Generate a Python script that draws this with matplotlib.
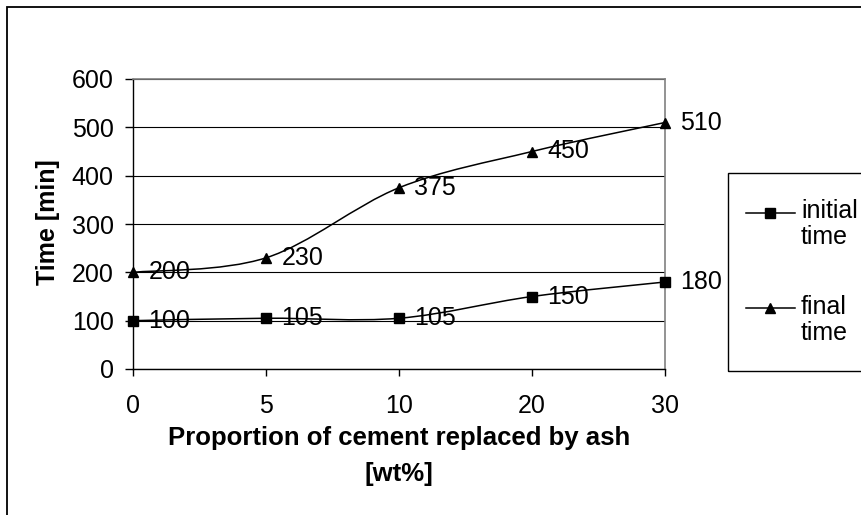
import matplotlib.pyplot as plt
from matplotlib.path import Path
from matplotlib.patches import PathPatch, Rectangle
from matplotlib.lines import Line2D

# setting times vs. ash content
categories = ["0", "5", "10", "20", "30"]
initial_time = [100, 105, 105, 150, 180]
final_time = [200, 230, 375, 450, 510]
series_names = ["initial\ntime", "final\ntime"]

plt.rcParams["font.family"] = ["Liberation Sans", "DejaVu Sans"]

W, H = 862, 515


def fx(x):
    return x / W


def fy(y):
    return 1 - y / H


def smooth_path(xs, ys):
    # smoothed line through the points (cubic Bezier, Catmull-Rom style)
    n = len(xs)
    verts = [(xs[0], ys[0])]
    codes = [Path.MOVETO]
    for i in range(n - 1):
        a = max(i - 1, 0)
        b = min(i + 2, n - 1)
        c1 = (xs[i] + (xs[i + 1] - xs[a]) / 6, ys[i] + (ys[i + 1] - ys[a]) / 6)
        c2 = (xs[i + 1] - (xs[b] - xs[i]) / 6, ys[i + 1] - (ys[b] - ys[i]) / 6)
        verts += [c1, c2, (xs[i + 1], ys[i + 1])]
        codes += [Path.CURVE4] * 3
    return Path(verts, codes)


fig = plt.figure(figsize=(W / 100, H / 100), dpi=100)
ax = fig.add_axes([fx(133), fy(369), (665 - 133) / W, (369 - 79) / H])

x = list(range(len(categories)))
styles = [("s", 6.5), ("^", 7.5)]
for values, (marker, ms) in zip([initial_time, final_time], styles):
    ax.add_patch(PathPatch(smooth_path(x, values), fill=False, ec="black",
                           lw=1.1, zorder=3))
    ax.plot(x, values, linestyle="none", marker=marker, ms=ms, color="black",
            zorder=4, clip_on=False)
    for xi, v in zip(x, values):
        ax.annotate(str(v), (xi, v), xytext=(11, 0), textcoords="offset points",
                    ha="left", va="center", fontsize=18, zorder=5,
                    annotation_clip=False)

ax.set_xlim(0, 4)
ax.set_ylim(0, 600)
ax.set_yticks(range(0, 601, 100))
ax.set_xticks(x, categories)
ax.grid(axis="y", color="black", lw=0.8)
ax.set_axisbelow(True)

for side in ["top", "right"]:
    ax.spines[side].set_color("#808080")
    ax.spines[side].set_linewidth(1.2)
for side in ["left", "bottom"]:
    ax.spines[side].set_color("black")
    ax.spines[side].set_linewidth(1.0)

ax.tick_params(axis="y", length=6, width=1, pad=8, labelsize=18)
ax.tick_params(axis="x", length=5, width=1, pad=13, labelsize=18)

ax.set_xlabel("Proportion of cement replaced by ash\n[wt%]", fontsize=18.5,
              fontweight="bold", linespacing=1.6)
ax.xaxis.set_label_coords(0.5, -0.197)
ax.xaxis.label.set_va("top")
ax.set_ylabel("Time [min]", fontsize=18, fontweight="bold")
ax.yaxis.set_label_coords(-0.137, 0.507)

# outer chart border
fig.add_artist(Rectangle((fx(7), -0.1), 1.2, fy(7) + 0.1,
                         transform=fig.transFigure, fill=False, ec="black",
                         lw=1.3))

# legend box
fig.add_artist(Rectangle((fx(728), fy(371)), 0.3, (371 - 173) / H,
                         transform=fig.transFigure, fill=False, ec="black",
                         lw=1.0))
for (marker, ms), name, ly, ty in zip(styles, series_names, [213, 308],
                                      [224, 320]):
    fig.add_artist(Line2D([fx(746), fx(795)], [fy(ly), fy(ly)],
                          transform=fig.transFigure, color="black", lw=1.1))
    fig.add_artist(Line2D([fx(770)], [fy(ly)], transform=fig.transFigure,
                          marker=marker, ms=ms, color="black",
                          linestyle="none"))
    fig.text(fx(801), fy(ty), name, fontsize=18, va="center", ha="left",
             linespacing=1.1)

fig.savefig("out.png", dpi=100)
